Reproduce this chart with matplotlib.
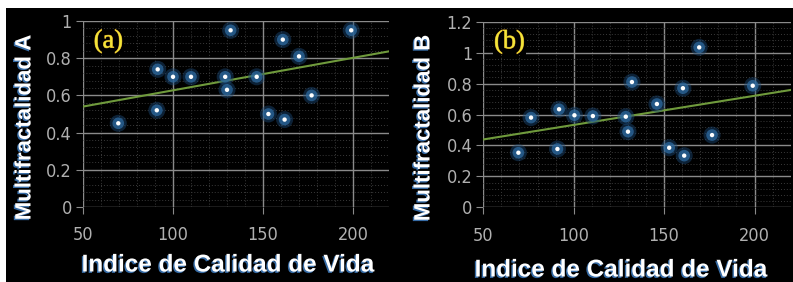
import numpy as np
import matplotlib
matplotlib.use("Agg")
import matplotlib.pyplot as plt
from matplotlib.ticker import MultipleLocator
import matplotlib.patheffects as pe
from matplotlib.patches import Rectangle

# data
icv_a = [69.6, 91, 91.5, 100, 110, 129, 130, 132, 146.5, 153, 161, 162, 170, 177, 199]
mf_a = [0.45, 0.52, 0.74, 0.70, 0.70, 0.70, 0.63, 0.95, 0.70, 0.50, 0.90, 0.47, 0.81, 0.60, 0.95]

icv_b = [69.4, 76.4, 91, 91.9, 100.4, 110.6, 128.8, 130, 132.2, 146, 152.8, 160.4, 161.1, 169.4, 176.5, 199]
mf_b = [0.353, 0.58, 0.377, 0.634, 0.595, 0.59, 0.586, 0.489, 0.81, 0.668, 0.385, 0.77, 0.334, 1.034, 0.467, 0.786]

xticks = [50, 100, 150, 200]
yticks_a = [0, 0.2, 0.4, 0.6, 0.8, 1]
yticks_b = [0, 0.2, 0.4, 0.6, 0.8, 1, 1.2]
ylabels = ["Multifractalidad A", "Multifractalidad B"]
xlabel = "Indice de Calidad de Vida"
tags = ["(a)", "(b)"]

grid_c = "#8a8a8a"
tick_c = "#b0b0b0"

fig = plt.figure(figsize=(7.93, 2.82), dpi=100, facecolor="black")
# white strip on top and left edges of the scanned figure
fig.patches.append(Rectangle((0, 1 - 8 / 282), 1, 8 / 282, transform=fig.transFigure,
                             facecolor="white", edgecolor="none", zorder=-1))
fig.patches.append(Rectangle((0, 0), 6 / 793, 1, transform=fig.transFigure,
                             facecolor="white", edgecolor="none", zorder=-1))

ax_a = fig.add_axes([83 / 793, 75 / 282, 306 / 793, 186 / 282])
ax_b = fig.add_axes([483.3 / 793, 74.7 / 282, 307.4 / 793, 185.6 / 282])

panels = [
    (ax_a, icv_a, mf_a, yticks_a, 1.0),
    (ax_b, icv_b, mf_b, yticks_b, 1.2),
]

for i, (ax, x, y, yt, ytop) in enumerate(panels):
    ax.set_facecolor("black")
    ax.set_xlim(50, 220)
    ax.set_ylim(0, ytop)
    ax.set_xticks(xticks)
    ax.set_yticks(yt)
    ax.set_yticklabels(["{:g}".format(v) for v in yt])
    ax.xaxis.set_minor_locator(MultipleLocator(10))
    ax.yaxis.set_minor_locator(MultipleLocator(0.04))
    ax.grid(which="major", color=grid_c, lw=1.0)
    ax.grid(which="minor", color="#3a3a3a", lw=0.7, ls=(0, (1, 2)))
    ax.set_axisbelow(True)
    for s in ax.spines.values():
        s.set_visible(False)
    ax.tick_params(which="major", length=5, color=grid_c, labelcolor=tick_c,
                   labelsize=13, pad=3)
    ax.tick_params(axis="x", pad=9)
    ax.tick_params(which="minor", length=0)
    for lab in ax.get_xticklabels() + ax.get_yticklabels():
        lab.set_family("DejaVu Sans")
        lab.set_stretch("condensed")
        lab.set_weight("light")

    # linear trend
    k, b0 = np.polyfit(x, y, 1)
    xs = np.array([50, 220])
    ax.plot(xs, k * xs + b0, color="#6f9a3c", lw=1.5, zorder=3)

    # glowing markers
    ax.scatter(x, y, s=150, color="#1c4a78", alpha=0.45, edgecolors="none", zorder=4)
    ax.scatter(x, y, s=70, color="#2d6aa0", alpha=0.75, edgecolors="none", zorder=5)
    ax.scatter(x, y, s=10, color="white", edgecolors="none", zorder=6)

    ax.text(0.035, 0.89, tags[i], transform=ax.transAxes, family="Liberation Serif",
            fontsize=19, color="#f2e63a", va="center", ha="left", zorder=7,
            bbox=dict(facecolor="black", edgecolor="none", pad=1),
            path_effects=[pe.withStroke(linewidth=0.6, foreground="#c08a20")])

glow = [pe.withSimplePatchShadow(offset=(-1, -1), shadow_rgbFace="#3d78b8", alpha=0.9)]
fig.text(25 / 793, 1 - 127.5 / 282, ylabels[0], rotation=90, ha="center", va="center",
         family="Liberation Sans", weight="bold", fontsize=16, color="white", path_effects=glow)
fig.text(424 / 793, 1 - 128 / 282, ylabels[1], rotation=90, ha="center", va="center",
         family="Liberation Sans", weight="bold", fontsize=16, color="white", path_effects=glow)
fig.text(228 / 793, 1 - 265 / 282, xlabel, ha="center", va="center",
         family="Liberation Sans", weight="bold", fontsize=17.5, color="white", path_effects=glow)
fig.text(621 / 793, 1 - 270 / 282, xlabel, ha="center", va="center",
         family="Liberation Sans", weight="bold", fontsize=17.5, color="white", path_effects=glow)

fig.savefig("out.png", dpi=100, facecolor="black")
